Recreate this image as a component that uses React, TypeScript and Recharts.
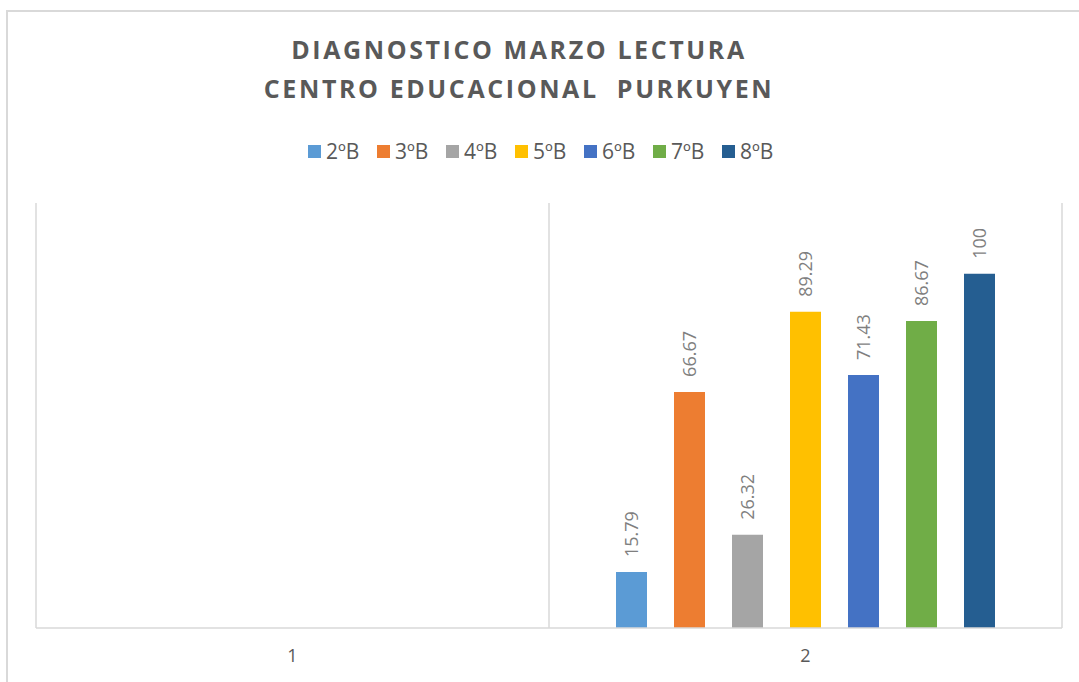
import React from "react"
import { BarChart, Bar, XAxis, YAxis, CartesianGrid, LabelList } from "recharts"

const categories = ["1", "2"]
const seriesNames = ["2ºB", "3ºB", "4ºB", "5ºB", "6ºB", "7ºB", "8ºB"]
// only category "2" has values
const seriesValues = [15.79, 66.67, 26.32, 89.29, 71.43, 86.67, 100]
const seriesColors = ["#5b9bd5", "#ed7d31", "#a5a5a5", "#ffc000", "#4472c4", "#70ad47", "#255e91"]
const titleLines = ["DIAGNOSTICO MARZO LECTURA", "CENTRO EDUCACIONAL  PURKUYEN"]

const keys = seriesNames.map((_, i) => `s${i}`)

const data = categories.map((cat, ci) => {
  const row: Record<string, any> = { cat }
  if (ci === 1) keys.forEach((k, i) => (row[k] = seriesValues[i]))
  return row
})

const W = 1079
const H = 682
const FONT = "'Open Sans', 'Noto Sans', sans-serif"

const VerticalLabel = (props: any) => {
  const { x, y, width, value } = props
  if (value == null) return null
  const cx = x + width / 2
  const cy = y - 15
  return (
    <text
      x={cx}
      y={cy}
      transform={`rotate(-90 ${cx} ${cy})`}
      textAnchor="start"
      dominantBaseline="central"
      fill="#7f7f7f"
      fontSize={18}
      fontFamily={FONT}
    >
      {value}
    </text>
  )
}

export default function App() {
  return (
    <div style={{ position: "absolute", left: 0, top: 0, width: W, height: H, overflow: "hidden", background: "#fff" }}>
      <div
        style={{
          position: "absolute",
          left: 6,
          top: 10,
          width: W + 40,
          height: H + 40,
          border: "2px solid #d9d9d9",
        }}
      />
      <div style={{ position: "absolute", left: 0, top: 0 }}>
        <BarChart
          width={W}
          height={H}
          data={data}
          margin={{ top: 203, left: 36, right: 17, bottom: 24 }}
          barCategoryGap={67}
          barGap={27}
        >
          <CartesianGrid
            horizontal={false}
            stroke="#d9d9d9"
            strokeWidth={1.5}
            verticalCoordinatesGenerator={({ offset }: any) => [
              offset.left,
              offset.left + offset.width / 2,
              offset.left + offset.width,
            ]}
          />
          <XAxis
            dataKey="cat"
            height={30}
            axisLine={{ stroke: "#d9d9d9", strokeWidth: 1.5 }}
            tickLine={false}
            tick={{ fill: "#595959", fontSize: 18, fontFamily: FONT }}
            tickMargin={15}
          />
          <YAxis hide domain={[0, 120]} />
          {keys.map((k, i) => (
            <Bar key={k} dataKey={k} name={seriesNames[i]} fill={seriesColors[i]} isAnimationActive={false}>
              <LabelList dataKey={k} content={VerticalLabel} />
            </Bar>
          ))}
        </BarChart>
      </div>
      <svg width={W} height={H} style={{ position: "absolute", left: 0, top: 0, pointerEvents: "none" }}>
        {titleLines.map((line, i) => (
          <text
            key={i}
            x={519}
            y={59 + i * 39}
            textAnchor="middle"
            fill="#595959"
            fontSize={25}
            fontWeight={700}
            fontFamily={FONT}
            letterSpacing={2.6}
            style={{ whiteSpace: "pre" }}
          >
            {line}
          </text>
        ))}
      </svg>
      <div
        style={{
          position: "absolute",
          left: 0,
          width: W,
          top: 137,
          height: 28,
          display: "flex",
          justifyContent: "center",
          alignItems: "center",
          paddingLeft: 20,
          boxSizing: "border-box",
          fontFamily: FONT,
          fontSize: 21,
          color: "#595959",
        }}
      >
        {seriesNames.map((name, i) => (
          <div key={name} style={{ display: "flex", alignItems: "center", width: 69 }}>
            <span style={{ width: 13, height: 13, background: seriesColors[i], marginRight: 5, display: "inline-block" }} />
            <span>{name}</span>
          </div>
        ))}
      </div>
    </div>
  )
}
